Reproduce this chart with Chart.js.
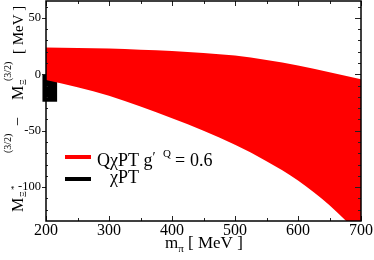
<!DOCTYPE html>
<html>
<head>
<meta charset="utf-8">
<script src="https://cdn.jsdelivr.net/npm/chart.js@4.4.1/dist/chart.umd.min.js"></script>
<style>
  html, body { margin: 0; padding: 0; background: #fff; }
  #wrap { width: 374px; height: 260px; position: relative; }
</style>
</head>
<body>
<div id="wrap"><canvas id="chart"></canvas></div>
<script>
// m_pi values [MeV] along the band
const mPi = [200, 250, 300, 350, 400, 450, 500, 550, 600, 650, 700]
// upper / lower edge of the Q chiPT band [MeV]
const bandUpper = [23.8, 23.4, 22.8, 21.9, 20.7, 19.0, 16.6, 12.6, 7.8, 1.9, -4.4]
const bandLower = [-5, -11.5, -19, -28.5, -39, -50, -62.5, -77, -94, -116, -143]
// chiPT box: m_pi position and [low, high] range
const chptX = [206]
const chptRange = [[-24, 0]]

const xTicks = [200, 300, 400, 500, 600, 700]
const xMinorTicks = [250, 350, 450, 550, 650]
const yTicks = [-100, -50, 0, 50]
const yMinorTicks = [-120, -110, -90, -80, -70, -60, -40, -30, -20, -10, 10, 20, 30, 40, 60]

const SERIF = "'Liberation Serif', 'DejaVu Serif', serif"

// draw runs of text one after another, with size and shift
function drawRuns(ctx, runs) {
  let u = 0
  runs.forEach(r => {
    if (r.at !== undefined) u = r.at
    ctx.font = r.size + "px " + SERIF
    ctx.fillText(r.text, u, r.dy || 0)
    u += ctx.measureText(r.text).width
  })
}

const framePlugin = {
  id: "frame",
  afterDatasetsDraw(chart) {
    const { ctx, chartArea: a, scales } = chart
    const x = scales.x, y = scales.y
    ctx.save()
    ctx.strokeStyle = "#222"
    ctx.lineWidth = 1
    ctx.beginPath()
    xTicks.concat(xMinorTicks).forEach(v => {
      const p = Math.round(x.getPixelForValue(v)) + 0.5
      const len = xTicks.includes(v) ? 5 : 3
      ctx.moveTo(p, a.bottom); ctx.lineTo(p, a.bottom - len)
      ctx.moveTo(p, a.top); ctx.lineTo(p, a.top + len)
    })
    yTicks.concat(yMinorTicks).forEach(v => {
      const p = Math.round(y.getPixelForValue(v)) + 0.5
      const major = yTicks.includes(v)
      if (major) {
        ctx.moveTo(a.left - 4, p); ctx.lineTo(a.left, p)
      } else {
        ctx.moveTo(a.left, p); ctx.lineTo(a.left + 2, p)
      }
      ctx.moveTo(a.right, p); ctx.lineTo(a.right - (major ? 6 : 3), p)
    })
    ctx.stroke()
    ctx.strokeStyle = "#000"
    ctx.lineWidth = 1.5
    ctx.strokeRect(a.left, a.top, a.right - a.left, a.bottom - a.top)
    ctx.restore()
  },
  afterDraw(chart) {
    const ctx = chart.ctx
    ctx.save()
    ctx.fillStyle = "#000"
    ctx.textBaseline = "alphabetic"

    // legend
    ctx.fillStyle = "#ff0000"
    ctx.fillRect(65, 155, 26, 4)
    ctx.fillStyle = "#000"
    ctx.fillRect(65, 177, 26, 4)
    ctx.save()
    ctx.translate(97, 166)
    drawRuns(ctx, [
      { text: "Q\u03c7PT g", size: 18 },
      { text: "\u2032", size: 14, dy: -4 },
      { text: "Q", size: 11, dy: -9, at: 66 },
      { text: "=", size: 18, at: 78 },
      { text: "0.6", size: 18, at: 93 }
    ])
    ctx.restore()
    ctx.save()
    ctx.translate(110, 183)
    drawRuns(ctx, [{ text: "\u03c7PT", size: 18 }])
    ctx.restore()

    // x title
    ctx.save()
    ctx.translate(165, 248)
    drawRuns(ctx, [
      { text: "m", size: 17 },
      { text: "\u03c0", size: 11, dy: 4 },
      { text: " [ MeV ]", size: 17 }
    ])
    ctx.restore()

    // y title
    ctx.save()
    ctx.translate(23, 212)
    ctx.rotate(-Math.PI / 2)
    drawRuns(ctx, [
      { text: "M", size: 16, at: 0 },
      { text: "\u039e", size: 9, dy: 3, at: 15 },
      { text: "*", size: 9, dy: -6, at: 22 },
      { text: "(3/2)", size: 10, dy: -12, at: 59 },
      { text: "\u2212", size: 16, at: 86 },
      { text: "M", size: 16, at: 112 },
      { text: "\u039e", size: 9, dy: 3, at: 127 },
      { text: "(3/2)", size: 10, dy: -12, at: 131 },
      { text: "[ MeV ]", size: 15, at: 158 }
    ])
    ctx.restore()
    ctx.restore()
  }
}

new Chart(document.getElementById("chart"), {
  data: {
    datasets: [
      {
        type: "line",
        data: mPi.map((m, i) => ({ x: m, y: bandUpper[i] })),
        borderWidth: 0,
        pointRadius: 0,
        cubicInterpolationMode: "monotone",
        backgroundColor: "#ff0000",
        fill: "+1"
      },
      {
        type: "line",
        data: mPi.map((m, i) => ({ x: m, y: bandLower[i] })),
        borderWidth: 0,
        pointRadius: 0,
        cubicInterpolationMode: "monotone",
        fill: false
      },
      {
        type: "bar",
        data: chptX.map((m, i) => ({ x: m, y: chptRange[i] })),
        backgroundColor: "#000",
        barThickness: 14,
        clip: false
      }
    ]
  },
  options: {
    responsive: true,
    maintainAspectRatio: false,
    animation: false,
    devicePixelRatio: 1,
    layout: { padding: { top: 1, right: 13, left: 0, bottom: 0 } },
    plugins: {
      legend: { display: false },
      tooltip: { enabled: false }
    },
    scales: {
      x: {
        type: "linear",
        min: 200,
        max: 700,
        offset: false,
        grid: { display: false, drawTicks: false },
        border: { display: false },
        afterBuildTicks: s => { s.ticks = xTicks.map(v => ({ value: v })) },
        afterFit: s => { s.height = 39; s.paddingLeft = 0; s.paddingRight = 0 },
        ticks: {
          padding: 0,
          color: "#000",
          maxRotation: 0,
          font: { family: SERIF, size: 16 }
        }
      },
      y: {
        type: "linear",
        min: -130,
        max: 65,
        grid: { display: false, drawTicks: false },
        border: { display: false },
        afterBuildTicks: s => { s.ticks = yTicks.map(v => ({ value: v })) },
        afterFit: s => { s.width = 46; s.paddingTop = 0; s.paddingBottom = 0 },
        ticks: {
          padding: 5,
          color: "#000",
          font: { family: SERIF, size: 12.5 }
        }
      }
    }
  },
  plugins: [framePlugin]
})
</script>
</body>
</html>
